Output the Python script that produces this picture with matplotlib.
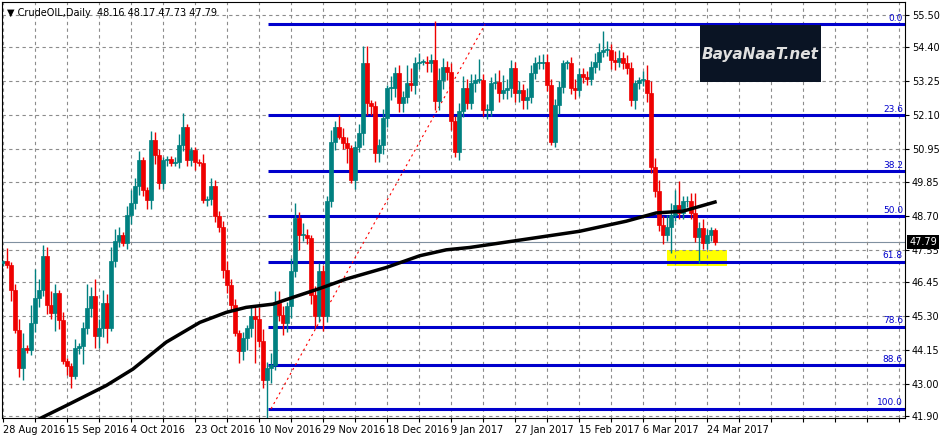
import matplotlib
matplotlib.use("Agg")
import matplotlib.pyplot as plt
import numpy as np
from matplotlib.patches import Rectangle

# daily closes, 28 Aug 2016 .. 28 Mar 2017
closes = [
    47.15, 47.04, 46.19, 44.83, 43.54, 44.21, 44.16, 45.06, 45.90, 46.19,
    47.32, 45.68, 45.40, 46.08, 45.17, 43.76, 43.59, 43.25, 44.21, 44.27,
    44.89, 45.57, 45.99, 44.61, 44.89, 45.74, 44.89, 47.15, 47.83, 48.05,
    47.77, 48.73, 49.12, 49.69, 50.59, 49.57, 49.24, 51.27, 50.76, 49.80,
    50.59, 50.61, 50.48, 50.53, 51.10, 51.72, 50.59, 50.93, 50.53, 50.48,
    49.24, 49.26, 49.69, 48.67, 48.33, 46.87, 46.36, 45.68, 44.72, 44.10,
    44.55, 44.89, 45.29, 45.20, 44.44, 43.14, 43.54, 43.65, 45.74, 45.34,
    45.06, 45.62, 46.81, 48.62, 48.05, 48.05, 47.94, 46.02, 45.29, 46.81,
    45.29, 49.18, 51.21, 51.72, 51.38, 51.15, 50.99, 49.91, 51.04, 51.49,
    53.86, 52.51, 52.40, 50.82, 51.10, 52.00, 53.02, 53.02, 53.52, 52.51,
    52.73, 53.19, 53.13, 53.86, 53.92, 53.92, 53.86, 53.98, 52.57, 53.30,
    53.75, 53.58, 51.89, 50.87, 52.23, 53.02, 52.51,
    53.19, 53.30, 53.30, 52.28, 52.28, 53.19, 53.24, 52.85, 52.96, 53.02,
    53.69, 52.85, 52.96, 52.62, 52.73, 53.52, 53.86, 53.86, 53.89, 53.13,
    51.21, 52.45, 53.05, 53.86, 53.86, 53.02, 52.96, 53.50, 53.39, 53.32,
    53.75, 53.92, 54.26, 54.31, 54.31, 53.98, 53.92, 54.03, 53.86, 53.69,
    52.62, 53.19, 53.30, 53.30, 52.85, 50.36, 49.52, 48.39, 48.05, 48.33,
    48.73, 49.07, 48.78, 49.18, 49.18, 48.78, 47.99, 48.28, 47.77, 48.05,
    48.22, 47.79,
]
first_open = 47.10

upper_wick = [
    0.05, 0.45, 0.10, 0.20, 0.35, 0.50, 0.10, 0.60, 1.00, 0.35,
    0.40, 0.30, 0.45, 0.30, 0.10, 0.25, 0.10, 0.10, 0.30, 0.10,
    0.20, 0.80, 0.30, 0.55, 0.30, 0.45, 0.30, 0.50, 0.40, 0.25,
    0.10, 0.30, 0.45, 0.30, 0.30, 0.10, 0.10, 0.30, 0.25, 0.20,
    0.10, 0.10, 0.10, 0.15, 0.35, 0.45, 0.10, 0.10, 0.10, 0.10,
    0.30, 0.10, 0.30, 0.20, 0.20, 0.20, 0.30, 0.20, 0.20, 0.10,
    0.20, 0.10, 0.35, 0.30, 0.40, 0.40, 0.20, 0.40, 0.40, 0.40,
    0.30, 0.15, 0.45, 0.50, 0.20, 0.40, 0.20, 0.10, 0.30, 0.30,
    0.20, 0.20, 0.40, 0.20, 0.40, 0.30, 0.20, 0.10, 0.20, 0.30,
    0.60, 0.60, 0.10, 0.20, 0.20, 0.30, 0.10, 0.40, 0.20, 0.30,
    0.20, 0.60, 0.50, 0.20, 0.30, 0.10, 0.20, 0.20, 1.30, 0.40,
    0.30, 0.20, 0.30, 0.20, 0.30, 0.40, 0.30,
    0.30, 0.20, 0.70, 0.20, 0.20, 0.20, 0.30, 0.40, 0.50, 0.30,
    0.30, 0.20, 0.30, 0.20, 0.30, 0.30, 0.20, 0.30, 0.30, 0.30,
    0.20, 0.20, 0.20, 0.10, 0.10, 0.20, 0.30, 0.20, 0.20, 0.20,
    0.20, 0.30, 0.30, 0.65, 0.30, 0.20, 0.30, 0.30, 0.20, 0.30,
    0.20, 0.10, 0.10, 0.30, 0.50, 0.40, 0.30, 0.40, 0.30, 0.40,
    0.40, 0.50, 0.80, 0.20, 0.20, 0.30, 0.70, 0.20, 0.30, 0.20,
    0.10, 0.05,
]
lower_wick = [
    0.10, 0.10, 0.40, 0.10, 0.30, 0.40, 0.10, 0.20, 0.30, 0.30,
    0.20, 0.30, 0.20, 0.60, 0.30, 0.10, 0.30, 0.40, 0.10, 0.20,
    0.60, 0.20, 0.30, 0.40, 0.40, 0.30, 0.50, 0.10, 0.20, 0.20,
    0.10, 0.20, 0.30, 0.20, 0.30, 0.20, 0.30, 0.30, 0.30, 0.20,
    0.20, 0.20, 0.10, 0.10, 0.20, 0.20, 0.20, 0.20, 0.30, 0.10,
    0.10, 0.20, 0.20, 0.20, 0.20, 0.30, 0.30, 0.20, 0.10, 0.40,
    0.30, 0.40, 0.30, 1.50, 0.20, 0.30, 1.40, 0.50, 0.20, 0.20,
    0.40, 0.30, 0.40, 0.20, 0.50, 0.20, 0.20, 0.30, 0.40, 0.20,
    0.50, 0.20, 0.20, 0.30, 0.10, 0.20, 0.50, 0.10, 0.30, 0.20,
    0.40, 0.40, 0.30, 0.30, 0.30, 0.30, 0.30, 0.40, 0.30, 0.30,
    0.30, 0.20, 0.20, 0.30, 0.20, 0.10, 0.30, 0.30, 0.30, 0.30,
    0.30, 0.30, 0.30, 0.20, 0.30, 0.20, 0.20,
    0.20, 0.30, 0.10, 0.20, 0.30, 0.20, 0.20, 0.30, 0.20, 0.30,
    0.30, 0.30, 0.30, 0.30, 0.30, 0.20, 0.20, 0.20, 0.20, 0.20,
    0.10, 0.20, 0.30, 0.20, 0.20, 0.20, 0.30, 0.20, 0.20, 0.20,
    0.20, 0.20, 0.30, 0.20, 0.20, 0.30, 0.30, 0.20, 0.20, 0.20,
    0.20, 0.30, 0.20, 0.20, 0.30, 0.20, 0.20, 0.20, 0.30, 0.20,
    0.90, 0.20, 0.20, 0.20, 0.20, 0.20, 0.20, 0.90, 0.20, 0.20,
    0.20, 0.10,
]

# moving average (black line): (bar index, price)
ma_bar = [8.3, 15.8, 25.8, 32.5, 40.8, 49.2, 55.8, 60.8, 67.5, 72.5, 79.2, 85.8,
          95.8, 104.2, 110.8, 116.7, 129.2, 144.2, 155.8, 163.3, 170, 178]
ma_val = [41.76, 42.26, 42.94, 43.50, 44.41, 45.08, 45.42, 45.59, 45.70, 45.93, 46.23,
          46.55, 46.94, 47.34, 47.54, 47.62, 47.87, 48.17, 48.51, 48.79, 48.85, 49.16]

fib_labels = ["0.0", "23.6", "38.2", "50.0", "61.8", "78.6", "88.6", "100.0"]
fib_prices = [55.18, 52.10, 50.20, 48.67, 47.13, 44.94, 43.63, 42.15]
fib_start = 66.3
trend_x = [67, 120.5]
trend_y = [42.15, 55.18]

price_ticks = [55.50, 54.40, 53.25, 52.10, 50.95, 49.85, 48.70, 47.55,
               46.45, 45.30, 44.15, 43.00, 41.90]
date_labels = ["28 Aug 2016", "15 Sep 2016", "4 Oct 2016", "23 Oct 2016",
               "10 Nov 2016", "29 Nov 2016", "18 Dec 2016", "9 Jan 2017",
               "27 Jan 2017", "15 Feb 2017", "6 Mar 2017", "24 Mar 2017"]
last_price = 47.79

up_col = "#008080"
dn_col = "#ee0000"

fig = plt.figure(figsize=(9.45, 4.4), dpi=100)
ax = fig.add_axes([2 / 945, 22 / 440, 903 / 945, 416 / 440])
ax.set_xlim(-0.25, 225.5)
ax.set_ylim(41.84, 55.94)

n = len(closes)
opens = [first_open] + closes[:-1]
for i in range(n):
    o, c = opens[i], closes[i]
    hi = max(o, c) + upper_wick[i]
    lo = min(o, c) - lower_wick[i]
    col = up_col if c >= o else dn_col
    ax.vlines(i, lo, hi, color=col, lw=1, zorder=3)
    ax.add_patch(Rectangle((i - 0.38, min(o, c)), 0.76, max(abs(c - o), 0.03),
                           facecolor=col, edgecolor=col, lw=0.5, zorder=4))

ax.plot(ma_bar, ma_val, color="black", lw=2.5, zorder=5)

for lab, p in zip(fib_labels, fib_prices):
    ax.hlines(p, fib_start, 225.5, color="#0000cc", lw=2.2, zorder=2)
    ax.text(225, p + 0.05, lab, color="#0000cc", fontsize=6.5, ha="right", va="bottom")
ax.plot(trend_x, trend_y, color="red", lw=0.8, ls=(0, (2, 3)), zorder=2)

ax.add_patch(Rectangle((166, 46.98), 15, 0.56, facecolor="yellow", edgecolor="none", zorder=1))
ax.axhline(last_price, color="#8090a0", lw=0.8, zorder=1)

# logo box
ax.add_patch(Rectangle((174.3, 53.23), 30.2, 1.93, facecolor="#0a1424", edgecolor="none", zorder=6))
ax.text(189.4, 54.15, "BayaNaaT.net", color="#e0e0e0", fontsize=11, style="italic",
        fontweight="bold", ha="center", va="center", zorder=7)

ax.set_yticks(price_ticks)
ax.set_yticklabels([f"{p:.2f}" for p in price_ticks])
ax.yaxis.tick_right()
ax.set_xticks([8 * k for k in range(29)])
ax.set_xticklabels([date_labels[k // 2] if k % 2 == 0 and k // 2 < len(date_labels) else ""
                    for k in range(29)])
ax.tick_params(axis="both", labelsize=7, length=3, pad=2)
ax.grid(True, color="#8c8c8c", ls=(0, (3, 3)), lw=0.8)
for lbl in ax.get_xticklabels():
    lbl.set_ha("left")
for s in ax.spines.values():
    s.set_color("black")

ax.text(1.005, (last_price - 41.84) / (55.94 - 41.84), f"{last_price:.2f}",
        transform=ax.transAxes, fontsize=7, color="white", va="center", ha="left",
        bbox=dict(facecolor="black", edgecolor="none", pad=1.5), zorder=10)

ax.text(0.005, 0.985, "\u25bc CrudeOIL,Daily  48.16 48.17 47.73 47.79", transform=ax.transAxes,
        fontsize=7, va="top", ha="left")

fig.savefig("out.png", dpi=100)
